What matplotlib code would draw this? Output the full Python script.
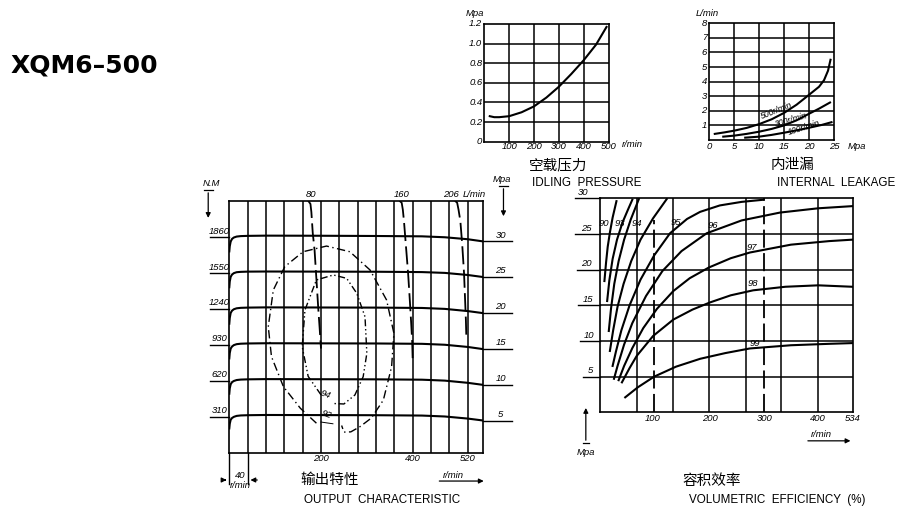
import matplotlib
matplotlib.use("Agg")
import matplotlib.pyplot as plt

W, H = 900, 512

# ---- idling pressure (r/min -> Mpa) ----
idle_speed = [22, 40, 60, 100, 150, 200, 250, 300, 350, 400, 450, 492]
idle_pressure = [0.26, 0.25, 0.25, 0.26, 0.30, 0.36, 0.45, 0.56, 0.69, 0.83, 0.99, 1.17]

# ---- internal leakage (Mpa -> L/min) ----
leak_500_p = [1.1, 3, 5, 7.5, 10, 12.5, 15, 17.5, 20, 22, 23, 23.8, 24.3]
leak_500_q = [0.42, 0.52, 0.64, 0.83, 1.09, 1.42, 1.86, 2.42, 3.1, 3.65, 4.1, 4.75, 5.5]
leak_300_p = [2.8, 5, 7.5, 10, 12.5, 15, 17.5, 20, 22, 24.2]
leak_300_q = [0.23, 0.3, 0.42, 0.57, 0.76, 1.0, 1.35, 1.8, 2.15, 2.57]
leak_100_p = [7.2, 10, 12.5, 15, 17.5, 20, 22.5, 24.5]
leak_100_q = [0.16, 0.23, 0.35, 0.5, 0.66, 0.84, 1.03, 1.22]

# ---- output characteristic (r/min -> N.M) ----
torque_levels = [1860, 1550, 1240, 930, 620, 310]
pressure_levels = ['30', '25', '20', '15', '10', '5']
out_speed = [0, 1, 3, 6, 10, 16, 25, 40, 80, 200, 320, 420, 470, 520, 554]
out_torque = [
    [1740, 1785, 1825, 1848, 1860, 1868, 1872, 1874, 1876, 1875, 1873, 1870, 1862, 1845, 1826],
    [1430, 1480, 1520, 1540, 1552, 1560, 1563, 1565, 1566, 1565, 1564, 1561, 1554, 1536, 1518],
    [1115, 1165, 1208, 1228, 1240, 1248, 1252, 1254, 1256, 1255, 1254, 1251, 1243, 1224, 1206],
    [815, 862, 900, 918, 930, 938, 942, 944, 946, 945, 944, 941, 933, 914, 895],
    [510, 556, 592, 610, 620, 628, 632, 634, 636, 635, 634, 631, 623, 604, 586],
    [210, 250, 285, 300, 310, 318, 322, 324, 326, 325, 324, 321, 313, 295, 278],
]
flow80_speed = [172, 177, 179, 182, 186, 190, 194, 197, 200]
flow80_torque = [2178, 2150, 2080, 1900, 1750, 1500, 1250, 1080, 900]
flow160_speed = [371, 376, 378.5, 381, 385, 390, 394, 397, 399, 400]
flow160_torque = [2178, 2160, 2100, 2000, 1800, 1550, 1300, 1100, 950, 800]
flow206_speed = [492, 497, 500, 504, 508, 512, 514, 516, 517]
flow206_torque = [2178, 2160, 2100, 2000, 1800, 1550, 1350, 1150, 1000]
eff92_speed = [190, 155, 118, 92, 85, 96, 121, 161, 212, 263, 307, 343, 359, 354, 336, 310, 285, 265, 250, 245]
eff92_torque = [255, 384, 571, 830, 1089, 1406, 1608, 1737, 1786, 1737, 1579, 1320, 1032, 743, 455, 300, 225, 180, 178, 235]
eff94_speed = [200, 172, 159, 165, 190, 227, 256, 278, 296, 300, 292, 274, 250, 228]
eff94_torque = [500, 660, 916, 1233, 1493, 1536, 1507, 1378, 1175, 859, 657, 499, 421, 425]

# ---- volumetric efficiency (r/min -> Mpa) ----
eff_labels = ['90', '93', '94', '', '95', '96', '97', '98', '99']
eff_speed = [
    [9, 12, 15, 19, 24, 31],
    [14, 18, 24, 32, 42, 52, 60],
    [17, 21, 27, 35, 45, 57, 72],
    [19, 25, 33, 44, 58, 75, 98, 123],
    [24, 30, 40, 55, 75, 100, 129, 160, 184, 220, 260, 300],
    [26.5, 33, 45, 60, 85, 115, 150, 196, 260, 330, 400, 462],
    [35, 45, 60, 80, 105, 135, 165, 200, 240, 275, 350, 420, 462],
    [41, 55, 68, 98, 135, 170, 202, 240, 281, 340, 400, 462],
    [47, 70, 100, 140, 184, 230, 275, 350, 420, 462],
]
eff_pressure = [
    [18.4, 21.0, 23.2, 25.2, 27.3, 29.6],
    [15.6, 18.5, 21.5, 24.2, 26.6, 28.4, 29.8],
    [11.4, 14.5, 18.0, 21.2, 24.2, 27.0, 29.9],
    [8.6, 11.5, 14.8, 18.0, 21.2, 24.2, 27.2, 29.9],
    [6.5, 8.5, 11.5, 15.0, 18.6, 22.0, 25.1, 27.1, 28.1, 29.0, 29.5, 29.8],
    [4.7, 6.5, 9.5, 12.5, 16.3, 19.8, 22.6, 25.1, 26.9, 28.0, 28.6, 28.9],
    [4.5, 6.5, 9.0, 11.8, 14.5, 17.0, 18.8, 20.3, 21.6, 22.4, 23.5, 24.0, 24.2],
    [4.2, 6.2, 7.9, 10.7, 13.0, 14.4, 15.4, 16.4, 17.1, 17.6, 17.8, 17.6],
    [2.1, 3.5, 5.0, 6.4, 7.5, 8.3, 8.95, 9.4, 9.6, 9.7],
]
eff_label_pos = [(9, 26.5), (38, 26.5), (69, 26.5), None, (140, 26.6), (207, 26.2),
                 (278, 23.1), (281, 18.0), (284, 9.6)]

NUM = dict(family='Liberation Sans', style='italic', fontsize=6.8)
CJK = dict(family=['Noto Sans CJK SC', 'DejaVu Sans'], fontsize=10.5)
CAP = dict(family='Liberation Sans', fontsize=8.4)
LW_GRID = 1.1
LW_CURVE = 1.5


def box(l, t, r, b):
    return [l / W, 1 - b / H, (r - l) / W, (b - t) / H]


def px(x, y):
    return x / W, 1 - y / H


def frame(ax, xlim, ylim):
    ax.set_xlim(*xlim)
    ax.set_ylim(*ylim)
    ax.set_xticks([])
    ax.set_yticks([])
    ax.patch.set_alpha(0)
    for s in ax.spines.values():
        s.set_linewidth(1.2)


fig = plt.figure(figsize=(W / 100, H / 100), dpi=100)

fig.text(*px(11, 65), 'XQM6–500', family='DejaVu Sans', fontweight='bold',
         fontsize=18, va='center', ha='left')

# ---------------- idling pressure ----------------
ax1 = fig.add_axes(box(484.3, 24, 608.5, 141.7))
frame(ax1, (0, 500), (0, 1.2))
for v in [100, 200, 300, 400]:
    ax1.axvline(v, color='k', lw=LW_GRID)
for h in [0.2, 0.4, 0.6, 0.8, 1.0]:
    ax1.axhline(h, color='k', lw=LW_GRID)
ax1.plot(idle_speed, idle_pressure, color='k', lw=LW_CURVE)
for v, s in zip([0, 0.2, 0.4, 0.6, 0.8, 1.0, 1.2], ['0', '0.2', '0.4', '0.6', '0.8', '1.0', '1.2']):
    ax1.text(-8, v, s, ha='right', va='center', **NUM)
for v in [100, 200, 300, 400, 500]:
    ax1.text(v, -0.05, str(v), ha='center', va='center', **NUM)
ax1.text(597, -0.03, 'r/min', ha='center', va='center', **NUM)
ax1.text(-37, 1.31, 'Mpa', ha='center', va='center', **NUM)
fig.text(*px(558, 165), '空载压力', ha='center', va='center', **CJK)
fig.text(*px(532, 183), 'IDLING  PRESSURE', ha='left', va='center', **CAP)

# ---------------- internal leakage ----------------
ax2 = fig.add_axes(box(709.3, 23.3, 834, 140))
frame(ax2, (0, 25), (0, 8))
for v in [5, 10, 15, 20]:
    ax2.axvline(v, color='k', lw=LW_GRID)
for h in range(1, 8):
    ax2.axhline(h, color='k', lw=LW_GRID)
ax2.plot(leak_500_p, leak_500_q, color='k', lw=LW_CURVE)
ax2.plot(leak_300_p, leak_300_q, color='k', lw=LW_CURVE)
ax2.plot(leak_100_p, leak_100_q, color='k', lw=LW_CURVE)
LAB = dict(NUM, fontsize=6.2)
ax2.text(13.5, 1.98, '500r/min', rotation=21, ha='center', va='center', **LAB)
ax2.text(16.4, 1.36, '300r/min', rotation=16, ha='center', va='center', **LAB)
ax2.text(19.0, 0.86, '100r/min', rotation=17, ha='center', va='center', **LAB)
for h in range(1, 9):
    ax2.text(-0.5, h, str(h), ha='right', va='center', **NUM)
for v in [0, 5, 10, 15, 20, 25]:
    ax2.text(v, -0.42, str(v), ha='center', va='center', **NUM)
ax2.text(29.5, -0.42, 'Mpa', ha='center', va='center', **NUM)
ax2.text(-0.5, 8.65, 'L/min', ha='center', va='center', **NUM)
fig.text(*px(793, 165), '内泄漏', ha='center', va='center', **CJK)
fig.text(*px(777, 183), 'INTERNAL  LEAKAGE', ha='left', va='center', **CAP)

# ---------------- output characteristic ----------------
ax3 = fig.add_axes(box(229.3, 200.7, 483.3, 452.7))
frame(ax3, (0, 554), (0, 2178))
for v in range(40, 521, 40):
    ax3.axvline(v, color='k', lw=LW_GRID)
for lvl, p, tq in zip(torque_levels, pressure_levels, out_torque):
    ax3.plot(out_speed, tq, color='k', lw=LW_CURVE)
    ax3.plot([-42, 0], [lvl, lvl], color='k', lw=1.0, clip_on=False)
    ax3.text(-21, lvl + 15, str(lvl), ha='center', va='bottom', **NUM)
    ax3.plot([554, 616], [tq[-1], tq[-1]], color='k', lw=1.0, clip_on=False)
    ax3.text(592, tq[-1] + 15, p, ha='center', va='bottom', **NUM)
dash = (0, (10, 3))
ax3.plot(flow80_speed, flow80_torque, color='k', lw=1.3, ls=dash)
ax3.plot(flow160_speed, flow160_torque, color='k', lw=1.3, ls=dash)
ax3.plot(flow206_speed, flow206_torque, color='k', lw=1.3, ls=dash)
ax3.plot(eff92_speed, eff92_torque, color='k', lw=1.0, ls=(0, (6, 2.5, 1, 2.5)))
ax3.plot(eff94_speed, eff94_torque, color='k', lw=1.0, ls=(0, (5, 2, 1, 2, 1, 2)))
ax3.text(212, 330, '92', ha='center', va='center', rotation=-20, **NUM)
ax3.plot([200, 226], [265, 250], color='k', lw=0.7)
ax3.text(210, 500, '94', ha='center', va='center', rotation=-20, **NUM)
ax3.text(178, 2228, '80', ha='center', va='center', **NUM)
ax3.text(376, 2228, '160', ha='center', va='center', **NUM)
ax3.text(484, 2228, '206', ha='center', va='center', **NUM)
ax3.text(535, 2228, 'L/min', ha='center', va='center', **NUM)
for v in [200, 400, 520]:
    ax3.text(v, -15, str(v), ha='center', va='top', **NUM)
# 40 r/min spacing mark
for v in [0, 40]:
    ax3.plot([v, v], [0, -270], color='k', lw=1.0, clip_on=False)
ax3.annotate('', xy=(0, -236), xytext=(-17, -236), annotation_clip=False,
             arrowprops=dict(arrowstyle='-|>', color='k', lw=0.9, mutation_scale=7))
ax3.annotate('', xy=(40, -236), xytext=(67, -236), annotation_clip=False,
             arrowprops=dict(arrowstyle='-|>', color='k', lw=0.9, mutation_scale=7))
ax3.text(23, -195, '40', ha='center', va='center', **NUM)
ax3.text(23, -285, 'r/min', ha='center', va='center', **NUM)
ax3.annotate('', xy=(561, -245), xytext=(452, -245), annotation_clip=False,
             arrowprops=dict(arrowstyle='-|>', color='k', lw=0.9, mutation_scale=7))
ax3.text(489, -195, 'r/min', ha='center', va='center', **NUM)
# axis arrows
ax3.text(-40, 2325, 'N.M', ha='center', va='center', **NUM)
ax3.plot([-55, -36], [2270, 2270], color='k', lw=0.9, clip_on=False)
ax3.annotate('', xy=(-46, 2005), xytext=(-46, 2270), annotation_clip=False,
             arrowprops=dict(arrowstyle='-|>', color='k', lw=0.9, mutation_scale=7))
ax3.text(594, 2365, 'Mpa', ha='center', va='center', **NUM)
ax3.plot([588, 608], [2305, 2305], color='k', lw=0.9, clip_on=False)
ax3.annotate('', xy=(598, 2020), xytext=(598, 2305), annotation_clip=False,
             arrowprops=dict(arrowstyle='-|>', color='k', lw=0.9, mutation_scale=7))
fig.text(*px(330, 480), '输出特性', ha='center', va='center', **CJK)
fig.text(*px(382, 500), 'OUTPUT  CHARACTERISTIC', ha='center', va='center', **CAP)

# ---------------- volumetric efficiency ----------------
ax4 = fig.add_axes(box(599.5, 198.3, 852.7, 412.3))
frame(ax4, (0, 463), (0, 30))
for v in [69, 135, 200, 267, 331, 399]:
    ax4.axvline(v, color='k', lw=LW_GRID)
ax4.plot([100, 100], [0, 27], color='k', lw=1.3, ls=dash)
ax4.plot([300, 300], [0, 30], color='k', lw=1.3, ls=dash)
for h in [5, 10, 15, 20, 25]:
    ax4.axhline(h, color='k', lw=LW_GRID)
for s, p, lab, pos in zip(eff_speed, eff_pressure, eff_labels, eff_label_pos):
    ax4.plot(s, p, color='k', lw=LW_CURVE)
    if lab:
        ax4.text(pos[0], pos[1], lab, ha='center', va='center', **NUM)
left_ends = [-30, -35, -39, -42, -45, -45]
label_x = [-16, -19, -21, -24, -25, -30]
for h, x0, lx in zip([5, 10, 15, 20, 25, 30], left_ends, label_x):
    ax4.plot([x0, 0], [h, h], color='k', lw=1.0, clip_on=False)
    ax4.text(lx, h + 0.2, str(h), ha='center', va='bottom', **NUM)
for v, s in zip([98, 202, 302, 399, 463], ['100', '200', '300', '400', '534']):
    ax4.text(v, -0.9, s, ha='center', va='center', **NUM)
ax4.annotate('', xy=(-25, 1.0), xytext=(-25, -4.3), annotation_clip=False,
             arrowprops=dict(arrowstyle='-|>', color='k', lw=0.9, mutation_scale=7))
ax4.plot([-31, -19], [-4.3, -4.3], color='k', lw=0.9, clip_on=False)
ax4.text(-25, -5.6, 'Mpa', ha='center', va='center', **NUM)
ax4.annotate('', xy=(464, -4.0), xytext=(376, -4.0), annotation_clip=False,
             arrowprops=dict(arrowstyle='-|>', color='k', lw=0.9, mutation_scale=7))
ax4.text(406, -3.1, 'r/min', ha='center', va='center', **NUM)
fig.text(*px(712, 481), '容积效率', ha='center', va='center', **CJK)
fig.text(*px(777, 500), 'VOLUMETRIC  EFFICIENCY  (%)', ha='center', va='center', **CAP)

fig.savefig('out.png', dpi=100, facecolor='white')
